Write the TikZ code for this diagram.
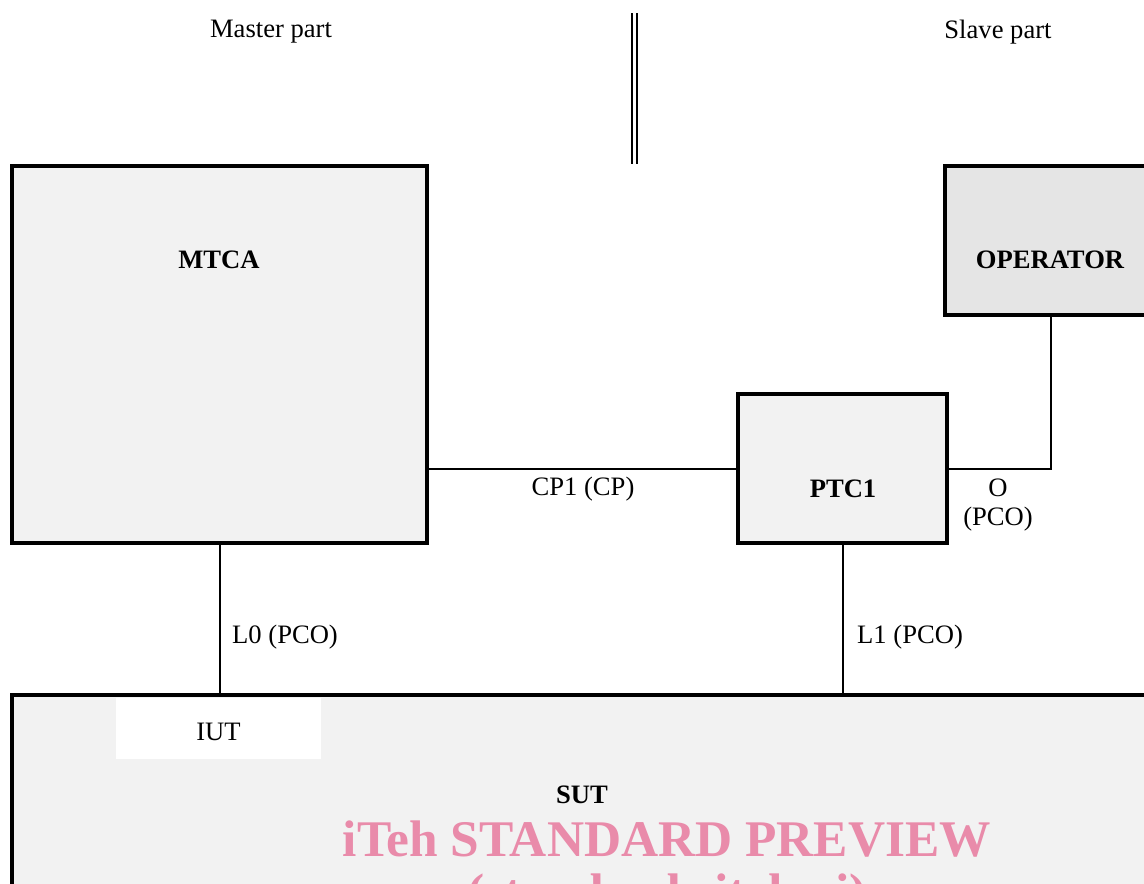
\documentclass[tikz,border=0pt]{standalone}
\usepackage{fontspec}
\setmainfont{Liberation Serif}
\usetikzlibrary{positioning}
\definecolor{boxg}{HTML}{F2F2F2}
\definecolor{opg}{HTML}{E5E5E5}
\definecolor{iteh}{HTML}{E98BAA}
\tikzset{
  blk/.style={draw=black,line width=3.2pt,fill=boxg,inner sep=0pt},
  lnk/.style={black,line width=2pt},
  lbl/.style={inner sep=0pt,yshift=-3pt,font=\fontsize{26.6}{32}\selectfont},
  lblb/.style={inner sep=0pt,yshift=-3pt,font=\fontsize{26.6}{32}\selectfont\bfseries},
  wmark/.style={inner sep=0pt,text=iteh,font=\fontsize{51.4}{60}\selectfont\bfseries},
}
\begin{document}
\begin{tikzpicture}[x=1pt,y=-1pt]
  \clip (0,0) rectangle (1144,884);
  \fill[white] (0,0) rectangle (1144,884);
  \node[lbl] (master) at (271,29) {Master part};
  \node[lbl] (slave) at (998,29) {Slave part};
  \coordinate (divtop) at (634.5,13);
  \coordinate (divbot) at (634.5,164);
  \draw[line width=2pt,double,double distance=2.4pt] (divtop) -- (divbot);
  \node[blk,minimum width=415pt,minimum height=377pt] (mtca) at (219.5,354.5) {};
  \node[lblb] (mtcal) at (219,257) {MTCA};
  \node[blk,minimum width=209pt,minimum height=149pt] (ptc) at (842.5,468.5) {};
  \node[lblb] (ptcl) at (843,486) {PTC1};
  \node[blk,fill=opg,minimum width=212pt,minimum height=149pt] (op) at (1051,240.5) {};
  \node[lblb] (opl) at (1050,257) {OPERATOR};
  \node[blk,minimum width=1148pt,minimum height=215pt] (sut) at (586,802.5) {};
  \node[fill=white,inner sep=0pt,minimum width=205pt,minimum height=61pt] (iutbox) at (218.5,728.5) {};
  \node[lbl] (iut) at (iutbox) {IUT};
  \node[lblb] (sutl) at (582,792) {SUT};
  \draw[lnk] (ptc.west) -- (ptc.west -| mtca.east);
  \node[lbl] (cp) at (583,486) {CP1 (CP)};
  \draw[lnk] (ptc.east) -- (ptc.east -| op.south) -- (op.south);
  \node[lbl] (ol) at (998,485) {O};
  \node[lbl] (opco) at (998,516) {(PCO)};
  \draw[lnk] (mtca.south) -- (mtca.south |- sut.north);
  \node[lbl,anchor=west] (l0) at (232,634) {L0 (PCO)};
  \draw[lnk] (ptc.south) -- (ptc.south |- sut.north);
  \node[lbl,anchor=west] (l1) at (857,634) {L1 (PCO)};
  \node[wmark,anchor=base] (wm) at (667,856) {iTeh STANDARD PREVIEW};
  \node[wmark,anchor=base] (wmb) at (667,909) {(standards.iteh.ai)};
\end{tikzpicture}
\end{document}
